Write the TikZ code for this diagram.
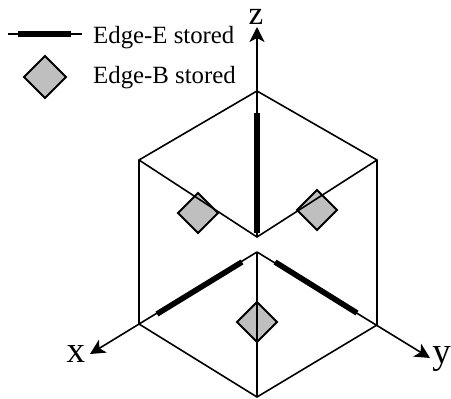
\documentclass[tikz,border=0pt]{standalone}
\usepackage{fontspec}
\setmainfont{Liberation Serif}
\usetikzlibrary{shapes.geometric,arrows.meta}
\tikzset{
  thin line/.style={line width=1.6pt,black},
  thick edge/.style={line width=5.6pt,black},
  axis/.style={thin line,-{Stealth[length=15pt,width=15pt,inset=4pt]}},
  edgeb/.style={diamond,draw=black,fill=black!25,line width=1.8pt,minimum width=40pt,minimum height=40pt,inner sep=0pt,outer sep=0pt},
  legend text/.style={inner sep=0pt,anchor=base west,font=\fontsize{24.8}{28}\selectfont},
  axis label/.style={inner sep=0pt,anchor=base,font=\fontsize{37}{40}\selectfont}
}
\begin{document}
\begin{tikzpicture}[x=1pt,y=-1pt]
\useasboundingbox (0,0) rectangle (451,399);
% hexagon vertices
\coordinate (T) at (257,91);
\coordinate (LT) at (139,160);
\coordinate (RT) at (377,160);
\coordinate (LB) at (139,324);
\coordinate (RB) at (377,325);
\coordinate (B) at (257,397);
\coordinate (CU) at (257,237);
\coordinate (CL) at (257,252);
\coordinate (zt) at (257,27);
\coordinate (xt) at (90,354);
\coordinate (yt) at (430,358);
% thick edge ends
\coordinate (e1a) at (257,113); \coordinate (e1b) at (257,233);
\coordinate (e2a) at (157,314); \coordinate (e2b) at (242,262);
\coordinate (e3a) at (275,262); \coordinate (e3b) at (357,313);
\coordinate (l1a) at (8,34); \coordinate (l1b) at (82,34);
\coordinate (l2a) at (18,34); \coordinate (l2b) at (71,34);
% diamonds
\node[edgeb] (dl) at (198,213) {};
\node[edgeb] (dr) at (317,210) {};
\node[edgeb] (db) at (257,322) {};
\node[edgeb,minimum width=42pt,minimum height=42pt] (dk) at (45,77) {};
% lines
\draw[thin line,line join=miter] (LT) -- (T) -- (RT) -- (RB) -- (B) -- (LB) -- cycle;
\draw[thin line] (LT) -- (CU) -- (RT);
\draw[thin line] (CL) -- (B);
\draw[axis] (CU) -- (zt);
\draw[axis] (CL) -- (xt);
\draw[axis] (CL) -- (yt);
\draw[thick edge] (e1a) -- (e1b);
\draw[thick edge] (e2a) -- (e2b);
\draw[thick edge] (e3a) -- (e3b);
\draw[thin line] (l1a) -- (l1b);
\draw[thick edge] (l2a) -- (l2b);
% labels
\node[legend text] (le) at (93,43) {Edge-E stored};
\node[legend text] (lb) at (93,83) {Edge-B stored};
\node[axis label,font=\fontsize{33}{36}\selectfont] (zl) at (256,24) {z};
\node[axis label] (xl) at (76,362) {x};
\node[axis label] (yl) at (441.5,363) {y};
\end{tikzpicture}
\end{document}
